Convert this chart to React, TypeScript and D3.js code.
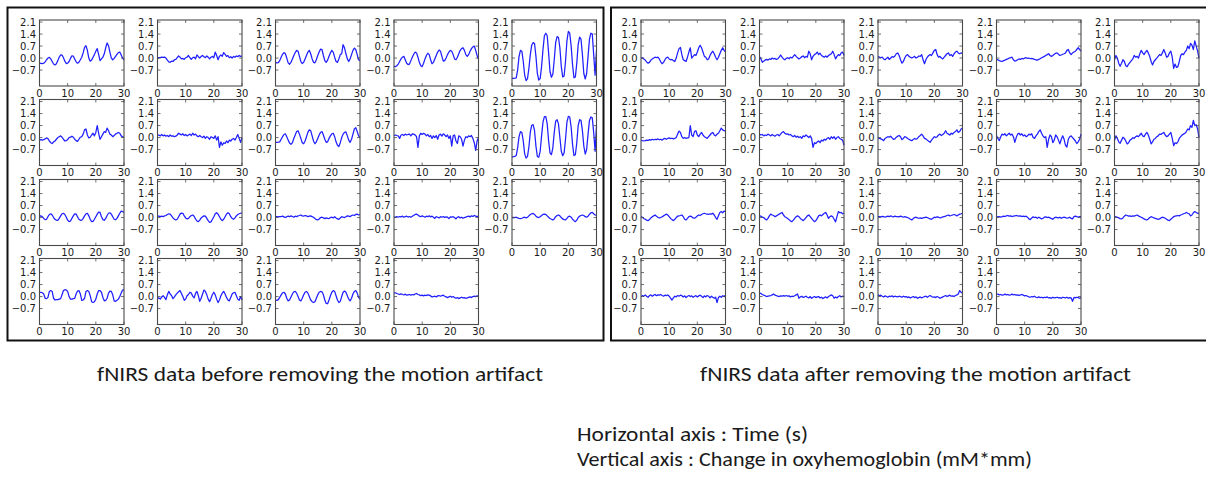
import React from "react";
import * as d3 from "d3";

// ---- Data (hemoglobin change, sampled every 0.5 s from 0 to 30 s) ----
const yTicks = [2.1, 1.4, 0.7, 0.0, -0.7];
const xTicks = [0, 10, 20, 30];
const yDomain = [-1.63, 2.22];
const timeStep = 0.5;

const before01 = [-0.30,-0.31,-0.32,-0.30,-0.22,-0.10,0.00,0.04,-0.05,-0.20,-0.35,-0.40,-0.33,-0.15,0.05,0.18,0.17,0.02,-0.18,-0.32,-0.30,-0.20,-0.02,0.13,0.12,-0.05,-0.22,-0.30,-0.24,-0.10,0.05,0.30,0.62,0.72,0.45,0.00,-0.18,-0.12,0.05,0.20,0.40,0.55,0.20,-0.15,-0.05,0.05,0.25,0.60,0.88,0.72,0.35,0.00,-0.10,-0.02,0.10,0.22,0.32,0.35,0.18,0.00,-0.10];
const before02 = [0.00,0.02,0.03,0.05,0.04,0.06,0.00,-0.12,-0.22,-0.25,-0.18,-0.20,-0.10,-0.08,0.02,0.12,0.05,-0.05,-0.02,-0.08,0.02,0.05,0.15,0.02,-0.08,0.02,0.05,-0.05,0.18,0.08,0.00,0.10,0.15,0.08,0.02,0.12,0.05,-0.05,0.05,0.10,0.02,0.35,0.15,-0.10,0.10,0.18,0.10,0.32,0.22,0.10,0.15,0.02,0.08,0.00,0.10,0.05,0.12,0.08,0.15,0.10,0.12];
const before03 = [-0.25,-0.28,-0.27,-0.15,0.05,0.22,0.32,0.25,0.00,-0.28,-0.36,-0.25,-0.05,0.15,0.32,0.45,0.40,0.10,-0.20,-0.32,-0.25,-0.05,0.15,0.35,0.45,0.25,-0.05,-0.25,-0.28,-0.10,0.15,0.35,0.52,0.50,0.15,-0.15,-0.25,-0.12,0.10,0.30,0.45,0.35,0.05,-0.20,-0.25,-0.05,0.20,0.25,0.78,0.60,0.25,-0.05,-0.20,-0.05,0.20,0.45,0.58,0.50,0.20,-0.10,-0.15];
const before04 = [-0.48,-0.50,-0.45,-0.35,-0.20,-0.05,0.05,0.10,-0.10,-0.30,-0.38,-0.35,-0.15,0.05,0.22,0.35,0.30,0.05,-0.25,-0.45,-0.50,-0.30,-0.05,0.15,0.28,0.20,-0.10,-0.33,-0.25,-0.05,0.15,0.35,0.47,0.40,0.10,-0.18,-0.15,0.00,0.20,0.35,0.45,0.40,0.20,-0.05,-0.10,0.05,0.25,0.45,0.55,0.60,0.45,0.20,0.10,0.20,0.40,0.55,0.65,0.70,0.45,0.15,-0.05];
const before05 = [-1.18,-1.18,-1.17,-1.15,-0.70,0.10,0.45,0.40,-0.20,-1.00,-1.32,-1.20,-0.60,0.20,0.75,0.90,0.85,0.10,-0.90,-1.28,-1.20,-0.50,0.50,1.30,1.45,1.30,0.30,-0.80,-1.12,-0.95,-0.10,0.90,1.25,1.20,0.60,-0.50,-1.10,-1.05,-0.20,1.00,1.55,1.45,0.70,-0.40,-1.15,-1.10,-0.30,0.80,1.22,1.10,0.20,-0.90,-1.22,-0.90,0.10,1.10,1.45,1.40,0.20,-1.00,0.47];
const before06 = [-0.15,-0.12,-0.15,-0.12,-0.08,-0.02,-0.06,-0.20,-0.30,-0.35,-0.25,-0.20,-0.10,0.00,0.05,0.10,0.02,-0.10,-0.20,-0.18,-0.12,0.00,0.02,0.08,0.02,-0.10,-0.18,-0.22,-0.10,0.02,0.05,0.20,0.45,0.50,0.15,-0.02,0.02,0.15,0.25,0.10,0.30,0.70,0.25,-0.10,0.05,0.20,0.35,0.30,0.55,0.40,0.20,0.15,0.05,0.12,0.20,0.25,0.30,0.25,0.10,0.05,0.00];
const before07 = [0.12,0.15,0.10,0.18,0.10,0.15,0.08,0.12,0.05,0.15,0.08,0.10,0.05,0.08,0.15,0.25,0.20,0.15,0.22,0.12,0.18,0.10,0.15,0.20,0.12,0.25,0.15,0.20,0.10,0.05,0.12,0.05,0.00,0.08,-0.05,0.05,0.00,-0.10,0.05,0.00,-0.05,0.10,-0.15,0.05,-0.57,-0.25,-0.45,-0.30,-0.35,-0.20,-0.30,-0.15,-0.20,-0.10,-0.05,-0.15,0.00,0.18,-0.05,-0.28,0.00];
const before08 = [-0.28,-0.28,-0.27,-0.25,-0.10,0.05,0.18,0.22,0.05,-0.15,-0.32,-0.40,-0.30,-0.05,0.15,0.35,0.40,0.20,-0.05,-0.30,-0.36,-0.20,0.05,0.30,0.45,0.40,0.10,-0.20,-0.36,-0.25,-0.05,0.15,0.30,0.35,0.15,-0.10,-0.28,-0.25,-0.05,0.10,0.22,0.25,0.05,-0.25,-0.45,-0.52,-0.30,0.00,0.20,0.30,0.33,0.10,-0.15,-0.28,-0.10,0.20,0.50,0.58,0.35,0.10,0.00];
const before09 = [0.12,0.15,0.12,0.10,-0.05,0.15,0.18,0.12,0.20,0.15,0.18,0.20,0.10,0.22,0.20,0.15,0.05,-0.57,0.10,0.25,0.18,0.25,0.20,0.10,0.18,0.05,0.12,-0.05,0.10,0.00,0.12,-0.10,0.15,0.20,0.08,0.22,0.15,0.05,0.15,-0.05,0.10,-0.50,0.10,0.15,-0.20,-0.35,0.10,0.05,-0.10,-0.50,-0.15,0.05,0.00,0.10,0.05,0.12,-0.05,-0.30,-0.75,-0.20,0.00];
const before10 = [-1.12,-1.12,-1.10,-1.05,-0.60,0.05,0.35,0.30,-0.20,-0.95,-1.20,-1.10,-0.55,0.30,0.72,0.75,0.40,-0.50,-1.10,-1.15,-0.80,0.10,0.90,1.22,1.22,0.80,-0.20,-0.90,-1.00,-0.60,0.30,0.95,1.04,0.80,0.00,-0.80,-1.06,-0.90,-0.10,0.90,1.24,1.20,0.60,-0.40,-1.05,-1.00,-0.30,0.70,1.04,1.00,0.40,-0.50,-0.96,-0.70,0.20,1.00,1.20,1.15,0.30,-0.80,0.70];
const before11 = [0.08,0.10,0.05,-0.05,-0.12,-0.10,0.05,0.18,0.22,0.15,0.00,-0.10,-0.15,-0.16,-0.05,0.10,0.22,0.25,0.18,0.02,-0.15,-0.24,-0.20,-0.05,0.10,0.22,0.20,0.05,-0.10,-0.16,-0.15,-0.05,0.10,0.22,0.25,0.10,-0.10,-0.24,-0.22,-0.10,0.05,0.20,0.32,0.30,0.05,-0.12,-0.16,-0.05,0.12,0.25,0.28,0.20,0.05,-0.10,-0.13,-0.05,0.10,0.25,0.38,0.35,0.30];
const before12 = [0.08,0.08,0.05,0.08,0.05,0.10,0.12,0.18,0.22,0.20,0.10,-0.02,-0.10,-0.14,-0.10,0.05,0.20,0.26,0.25,0.10,-0.02,-0.08,-0.05,0.05,0.12,0.15,0.08,-0.08,-0.20,-0.24,-0.15,-0.02,0.05,0.10,0.08,-0.05,-0.18,-0.28,-0.25,-0.10,0.05,0.22,0.28,0.20,0.05,-0.10,-0.18,-0.10,0.05,0.20,0.28,0.22,0.05,-0.05,-0.10,-0.02,0.10,0.18,0.22,0.25,0.28];
const before13 = [0.05,0.06,0.04,0.06,0.05,0.08,0.04,0.00,0.05,0.08,0.05,0.10,0.06,0.02,0.08,0.05,0.10,0.12,0.15,0.10,0.08,0.12,0.10,0.05,0.08,0.10,0.05,0.02,-0.05,-0.12,-0.14,-0.08,0.00,0.02,-0.02,-0.06,-0.02,-0.05,-0.06,0.00,0.02,-0.02,0.05,-0.02,-0.08,-0.10,-0.02,0.05,0.02,0.00,0.05,0.10,0.08,0.05,0.12,0.15,0.12,0.18,0.20,0.15,0.18];
const before14 = [0.02,0.03,0.05,0.02,0.06,0.04,0.08,0.02,0.05,0.08,0.03,0.06,0.02,0.08,0.12,0.18,0.20,0.15,0.08,0.05,0.10,0.06,0.02,0.08,0.05,0.10,0.04,0.08,0.02,-0.05,0.05,0.02,-0.02,0.05,0.02,0.06,0.00,0.04,0.02,-0.06,0.04,0.02,0.05,0.00,-0.08,0.02,0.05,-0.02,0.02,-0.04,0.00,0.03,0.06,0.08,0.04,0.10,0.06,0.12,0.08,0.05,0.08];
const before15 = [0.00,0.01,0.00,0.02,-0.02,-0.05,-0.06,-0.04,0.00,0.02,-0.02,0.02,0.10,0.18,0.22,0.24,0.18,0.08,0.02,0.00,0.05,0.12,0.18,0.20,0.18,0.10,0.02,-0.05,-0.10,-0.14,-0.08,0.05,0.12,0.15,0.10,0.00,-0.08,-0.12,-0.14,-0.05,0.05,0.08,0.02,-0.10,-0.18,-0.24,-0.15,0.00,0.08,0.12,0.15,0.12,0.05,0.02,0.08,0.18,0.28,0.30,0.22,0.15,0.12];
const before16 = [0.25,0.25,0.22,0.15,-0.10,-0.12,-0.05,0.30,0.35,0.30,-0.10,-0.20,-0.18,-0.18,-0.15,-0.12,0.10,0.35,0.40,0.38,0.30,0.00,-0.15,-0.15,-0.12,-0.10,0.15,0.32,0.35,0.15,-0.22,-0.20,-0.10,0.30,0.35,0.30,0.05,-0.30,-0.35,-0.30,-0.15,0.15,0.35,0.35,0.25,-0.05,-0.25,-0.22,-0.10,0.20,0.32,0.30,0.10,-0.25,-0.28,-0.22,-0.15,0.00,0.20,0.38,0.40];
const before17 = [-0.12,-0.08,-0.15,-0.02,0.05,-0.05,-0.18,0.10,0.30,0.15,0.05,-0.12,-0.02,0.10,0.20,0.28,0.35,0.18,0.00,-0.22,-0.15,0.05,0.12,0.25,0.20,0.02,-0.08,0.18,0.30,0.05,-0.28,-0.10,0.15,0.38,0.30,0.10,-0.15,-0.30,-0.10,0.12,0.25,0.10,-0.15,-0.35,-0.20,0.05,0.20,0.30,0.15,-0.05,-0.20,-0.25,-0.05,0.15,0.22,0.25,0.05,-0.15,-0.22,0.00,-0.20];
const before18 = [-0.20,-0.22,-0.18,-0.05,0.10,0.22,0.25,0.15,-0.10,-0.25,-0.20,-0.02,0.15,0.28,0.30,0.20,0.00,-0.20,-0.25,-0.10,0.10,0.25,0.30,0.20,0.00,-0.20,-0.30,-0.35,-0.30,-0.10,0.10,0.25,0.30,0.28,0.10,-0.20,-0.40,-0.42,-0.20,0.05,0.25,0.35,0.30,0.05,-0.20,-0.35,-0.28,0.00,0.25,0.32,0.25,0.05,-0.15,-0.25,-0.10,0.15,0.30,0.35,0.20,-0.05,-0.15];
const before19 = [0.20,0.22,0.18,0.15,0.12,0.16,0.12,0.10,0.14,0.08,0.10,0.12,0.08,0.12,0.10,0.15,0.18,0.12,0.10,0.05,0.08,0.04,0.08,0.06,0.10,0.08,0.04,-0.02,0.00,0.02,-0.02,0.04,0.06,0.02,0.05,0.08,0.02,-0.02,-0.06,-0.02,0.02,-0.04,0.00,-0.06,-0.10,-0.06,-0.12,-0.08,-0.04,-0.08,-0.06,-0.10,-0.08,-0.05,-0.02,-0.06,0.00,0.02,0.00,0.04,0.02];

const after01 = [-0.02,0.02,-0.05,-0.12,-0.22,-0.30,-0.25,-0.12,-0.05,0.00,0.05,0.02,0.06,-0.05,-0.22,-0.33,-0.25,-0.10,0.02,0.05,-0.05,-0.10,-0.08,-0.15,-0.20,0.00,0.30,0.55,0.62,0.20,-0.10,-0.15,-0.20,0.05,0.35,0.60,0.00,0.10,0.20,0.15,0.35,0.60,0.75,0.60,0.35,0.10,0.05,-0.10,-0.05,0.15,0.30,0.40,0.25,0.05,-0.10,0.05,0.25,0.45,0.60,0.45,0.35];
const after02 = [0.08,-0.05,-0.25,-0.18,-0.12,-0.08,-0.12,-0.05,-0.08,0.00,-0.05,-0.02,-0.08,-0.04,0.05,0.18,0.05,-0.05,-0.10,-0.02,0.02,-0.04,0.05,0.00,0.10,0.20,0.10,0.02,-0.05,0.00,0.08,0.12,0.02,0.10,0.05,0.40,0.25,-0.10,0.10,0.20,0.25,0.35,0.20,0.28,0.15,0.10,0.05,0.12,0.05,0.15,0.20,0.25,0.40,0.20,-0.05,0.10,0.20,0.15,0.30,0.35,0.15];
const after03 = [0.08,0.05,0.02,0.05,-0.05,-0.10,-0.02,0.05,-0.08,0.00,0.08,0.05,0.12,0.25,0.30,0.15,-0.10,-0.30,-0.20,0.00,0.15,0.20,0.10,0.05,0.00,0.05,0.10,0.00,0.05,0.12,0.10,0.20,-0.10,-0.33,-0.10,0.05,0.15,0.20,0.15,0.30,0.45,0.50,0.20,0.05,0.10,0.00,-0.05,0.05,0.15,0.25,0.30,0.15,0.20,0.10,0.25,0.35,0.40,0.30,0.25,0.30,0.28];
const after04 = [-0.08,-0.10,-0.15,-0.18,-0.20,-0.15,-0.12,-0.08,-0.05,0.00,0.02,0.05,-0.10,-0.18,-0.15,-0.10,-0.05,-0.08,-0.02,-0.05,0.00,0.02,-0.02,0.00,-0.04,-0.02,-0.05,-0.08,-0.10,-0.12,-0.08,-0.04,0.02,0.05,0.10,0.15,0.20,0.25,0.15,0.10,0.15,0.22,0.28,0.30,0.22,0.15,0.18,0.22,0.25,0.30,0.45,0.50,0.30,0.20,0.30,0.35,0.40,0.50,0.60,0.50,0.40];
const after05 = [-0.10,0.15,0.00,-0.30,-0.48,-0.30,-0.10,-0.20,-0.45,-0.50,-0.35,-0.25,-0.15,-0.05,0.15,0.05,0.10,0.00,0.25,0.45,0.30,0.20,0.35,0.45,0.30,0.10,-0.20,-0.40,-0.20,-0.10,0.00,0.10,0.20,0.15,0.30,0.50,0.30,0.05,0.10,0.30,0.40,0.05,-0.60,-0.35,-0.55,-0.50,-0.20,0.15,0.25,0.20,0.35,0.45,0.70,0.55,0.85,0.75,0.50,1.00,0.70,0.40,0.00];
const after06 = [-0.15,-0.18,-0.20,-0.18,-0.15,-0.17,-0.12,-0.15,-0.10,-0.14,-0.10,-0.12,-0.08,-0.13,-0.10,-0.15,-0.08,-0.05,-0.10,-0.05,-0.02,-0.06,-0.04,-0.08,-0.05,0.00,0.20,0.38,0.30,0.05,-0.05,0.00,-0.05,-0.02,0.00,0.70,0.15,0.05,0.35,0.40,0.15,0.05,0.20,0.30,0.15,0.05,0.00,-0.05,0.05,0.15,0.25,0.30,0.15,0.10,0.20,0.25,0.40,0.55,0.45,0.40,0.38];
const after07 = [0.20,0.15,0.18,0.10,0.15,0.12,0.20,0.15,0.10,0.18,0.12,0.08,0.15,0.18,0.10,0.20,0.30,0.35,0.25,0.20,0.22,0.15,0.18,0.10,0.05,0.12,0.02,0.08,0.00,0.05,-0.05,0.10,0.05,0.15,0.08,0.00,0.10,-0.05,-0.57,-0.30,-0.35,-0.25,-0.20,-0.30,-0.15,-0.20,-0.10,-0.15,-0.05,0.00,-0.10,0.05,-0.05,0.05,-0.10,0.00,0.05,-0.05,-0.10,-0.15,-0.45];
const after08 = [0.00,-0.05,-0.08,-0.12,-0.18,-0.05,0.00,0.05,0.02,0.08,-0.02,-0.10,-0.08,0.02,0.08,0.12,0.05,-0.12,-0.05,0.05,0.02,-0.05,-0.10,-0.15,-0.18,-0.12,-0.05,-0.10,-0.05,0.05,0.12,0.20,0.10,-0.05,-0.08,-0.15,-0.22,-0.28,-0.15,-0.05,0.05,0.00,0.05,0.15,0.20,0.12,0.18,0.25,0.40,0.25,0.20,0.15,0.25,0.20,0.30,0.35,0.45,0.30,0.35,0.50,0.55];
const after09 = [0.10,-0.05,-0.18,0.05,0.20,0.15,0.22,0.10,0.18,0.25,0.15,0.20,0.05,-0.28,0.00,0.20,0.25,0.15,0.22,0.10,0.15,0.05,0.10,0.20,0.15,0.22,0.00,-0.05,0.10,0.20,0.35,0.45,0.25,0.10,0.00,0.05,-0.57,-0.10,0.15,0.05,-0.30,-0.15,0.15,0.05,-0.15,-0.37,-0.10,0.10,-0.10,-0.45,-0.55,-0.10,0.05,0.10,0.00,-0.10,-0.20,-0.35,-0.25,-0.10,0.20];
const after10 = [-0.18,0.10,-0.05,-0.25,-0.33,-0.15,0.02,-0.05,-0.20,-0.37,-0.30,-0.15,-0.10,0.00,-0.05,0.05,0.10,0.05,0.15,0.25,0.10,0.05,0.20,0.30,0.15,-0.10,-0.37,-0.25,-0.10,-0.05,0.05,0.10,0.20,0.18,0.25,0.30,0.15,0.05,0.10,0.20,0.30,-0.05,-0.47,-0.30,-0.35,-0.25,-0.05,0.05,0.15,0.20,0.25,0.35,0.50,0.45,0.70,0.60,1.00,0.70,0.75,0.50,0.00];
const after11 = [0.05,0.02,-0.05,-0.10,-0.15,-0.18,-0.12,-0.02,0.05,0.10,0.15,0.08,0.02,-0.02,0.00,0.05,0.10,0.15,0.20,0.15,0.05,-0.05,-0.12,-0.18,-0.10,0.00,0.08,0.10,0.12,0.15,0.05,-0.10,-0.14,-0.05,0.05,0.08,0.05,-0.02,-0.04,0.02,0.10,0.15,0.12,0.18,0.22,0.25,0.22,0.20,0.18,0.22,0.20,0.25,0.15,0.00,-0.10,0.10,0.30,0.35,0.28,0.38,0.35];
const after12 = [0.10,0.08,0.02,0.00,-0.08,-0.14,-0.05,0.10,0.20,0.15,0.12,0.05,0.10,0.15,0.20,0.25,0.30,0.15,0.05,0.00,-0.05,-0.12,-0.20,-0.24,-0.15,-0.05,0.05,0.10,0.05,-0.05,-0.12,-0.18,-0.10,0.00,0.10,0.15,0.05,-0.05,-0.15,-0.24,-0.18,-0.05,0.10,0.15,0.10,0.18,0.25,0.30,0.15,-0.05,0.05,0.10,0.05,-0.10,-0.25,0.05,0.35,0.28,0.30,0.22,0.25];
const after13 = [0.05,0.06,0.04,0.07,0.05,0.02,0.06,0.08,0.05,0.10,0.06,0.04,0.08,0.05,0.06,0.04,0.08,0.05,0.02,0.05,0.03,0.00,-0.04,-0.10,-0.14,-0.06,0.00,0.02,-0.02,-0.04,-0.02,-0.05,-0.02,0.00,0.02,0.00,-0.04,-0.08,-0.10,-0.04,0.02,0.00,0.04,0.02,-0.02,0.00,0.04,0.06,0.08,0.12,0.15,0.10,0.12,0.15,0.18,0.15,0.10,0.15,0.20,0.22,0.25];
const after14 = [0.05,0.04,0.06,0.03,0.05,0.08,0.06,0.10,0.12,0.08,0.10,0.06,0.08,0.10,0.12,0.10,0.08,0.10,0.06,0.08,0.05,0.08,0.02,-0.08,-0.12,-0.02,0.04,0.00,0.02,-0.04,0.02,-0.02,-0.08,-0.04,0.02,0.04,0.00,0.02,-0.02,-0.06,-0.10,-0.02,0.02,0.00,-0.02,0.02,-0.04,0.00,0.02,0.00,-0.04,-0.02,0.02,-0.05,-0.08,0.05,0.08,0.05,0.02,0.06,0.05];
const after15 = [0.05,0.04,0.02,-0.02,-0.06,-0.08,-0.02,0.08,0.15,0.12,0.08,0.10,0.06,0.10,0.08,0.12,0.15,0.10,0.05,0.02,-0.02,-0.08,-0.12,-0.14,-0.08,0.00,0.05,0.02,-0.02,-0.05,-0.08,-0.10,-0.08,-0.02,0.02,0.00,-0.04,-0.10,-0.15,-0.18,-0.10,-0.02,0.05,0.08,0.10,0.12,0.10,0.15,0.18,0.22,0.25,0.30,0.25,0.22,0.10,0.15,0.28,0.35,0.30,0.25,0.25];
const after16 = [0.00,0.05,0.02,0.10,0.02,-0.04,0.06,0.10,0.02,0.08,0.12,0.05,0.10,0.08,0.12,0.06,0.02,0.08,0.05,0.10,0.02,-0.10,-0.20,-0.08,0.02,-0.02,0.06,0.02,0.08,0.05,-0.02,0.04,-0.06,0.02,0.06,0.00,0.04,-0.04,0.02,0.05,-0.02,0.04,0.08,0.02,-0.06,0.04,-0.02,0.06,0.02,-0.08,0.02,-0.04,-0.10,-0.04,-0.35,-0.05,0.02,-0.04,0.05,0.00,0.08];
const after17 = [0.20,0.18,0.12,0.08,0.05,0.00,0.02,0.04,0.06,0.10,0.15,0.08,0.05,0.02,0.00,0.04,0.02,0.05,0.03,0.06,0.02,0.04,-0.02,0.02,0.00,0.05,0.10,0.15,-0.10,-0.02,0.02,-0.05,-0.02,0.02,-0.04,-0.08,0.00,-0.10,-0.04,0.00,-0.06,-0.02,0.00,-0.08,-0.04,-0.12,-0.06,-0.02,-0.08,0.00,0.05,0.10,0.05,-0.10,-0.02,-0.08,0.00,0.05,-0.02,0.02,0.00];
const after18 = [0.10,0.05,0.08,0.02,-0.02,0.04,0.00,-0.04,0.02,0.00,0.04,-0.02,0.02,0.00,-0.02,0.02,0.00,-0.04,0.02,-0.02,0.00,-0.06,-0.02,-0.08,-0.04,0.00,-0.06,-0.02,-0.10,-0.06,-0.02,-0.08,-0.04,0.00,0.02,-0.04,0.02,0.06,0.00,-0.04,-0.02,-0.06,0.00,-0.04,-0.10,-0.06,-0.02,0.02,0.06,0.00,0.04,0.08,0.02,0.04,0.00,0.06,0.10,0.15,0.35,0.25,0.20];
const after19 = [0.12,0.15,0.10,0.12,0.08,0.10,0.14,0.10,0.12,0.08,0.10,0.14,0.10,0.12,0.08,0.10,0.06,0.10,0.12,0.08,0.04,0.06,0.02,-0.02,-0.04,0.00,-0.02,0.02,-0.04,-0.06,-0.02,-0.06,-0.04,-0.08,-0.04,-0.06,-0.02,-0.08,-0.06,-0.10,-0.04,-0.08,-0.06,-0.04,-0.08,-0.06,-0.10,-0.04,-0.06,-0.08,-0.04,-0.10,-0.06,-0.08,-0.28,-0.05,-0.08,-0.04,-0.06,-0.10,-0.08];

const beforeSeries = [before01, before02, before03, before04, before05, before06, before07, before08, before09, before10, before11, before12, before13, before14, before15, before16, before17, before18, before19];
const afterSeries = [after01, after02, after03, after04, after05, after06, after07, after08, after09, after10, after11, after12, after13, after14, after15, after16, after17, after18, after19];

const captionBefore = "fNIRS data before removing the motion artifact";
const captionAfter = "fNIRS data after removing the motion artifact";
const noteH = "Horizontal axis : Time (s)";
const noteV = "Vertical axis : Change in oxyhemoglobin (mM*mm)";

// ---- Layout ----
const W = 1206;
const H = 479;
const AX_W = 84.5;
const AX_H = 66;
const ROW_TOPS = [20, 99.5, 179.5, 258.5];
const LEFT_COLS = [39.5, 157.5, 275.5, 394, 512];
const RIGHT_COLS = [641, 759.5, 878, 996.5, 1114.5];
const TICK_FONT = "'DejaVu Sans', Verdana, sans-serif";
const CAP_FONT = "Carlito, Calibri, Lato, 'Open Sans', sans-serif";

const fmt = (v: number) => (v < 0 ? "\u2212" + Math.abs(v).toFixed(1) : v.toFixed(1));

function SmallPlot({ x0, y0, values }: { x0: number; y0: number; values: number[] }) {
  const x = d3.scaleLinear().domain([0, 30]).range([x0, x0 + AX_W]);
  const y = d3.scaleLinear().domain(yDomain).range([y0 + AX_H, y0]);
  const line = d3
    .line<number>()
    .x((_, i) => x(i * timeStep))
    .y((d) => y(d));
  const tl = 3;
  const spine = "#4a4a4a";
  return (
    <g>
      <path d={line(values) || ""} fill="none" stroke="#1f1fff" strokeWidth={1.25} strokeLinejoin="round" />
      <rect x={x0} y={y0} width={AX_W} height={AX_H} fill="none" stroke={spine} strokeWidth={1.1} />
      {xTicks.map((t) => (
        <g key={"x" + t}>
          <line x1={x(t)} x2={x(t)} y1={y0 + AX_H} y2={y0 + AX_H - tl} stroke={spine} strokeWidth={0.8} />
          <line x1={x(t)} x2={x(t)} y1={y0} y2={y0 + tl} stroke={spine} strokeWidth={0.8} />
          <text x={x(t)} y={y0 + AX_H + 10.5} textAnchor="middle" fontFamily={TICK_FONT} fontSize={10} fill="#1a1a1a">
            {t}
          </text>
        </g>
      ))}
      {yTicks.map((t) => (
        <g key={"y" + t}>
          <line x1={x0} x2={x0 + tl} y1={y(t)} y2={y(t)} stroke={spine} strokeWidth={0.8} />
          <line x1={x0 + AX_W} x2={x0 + AX_W - tl} y1={y(t)} y2={y(t)} stroke={spine} strokeWidth={0.8} />
          <text x={x0 - 3.5} y={y(t)} dy="0.36em" textAnchor="end" fontFamily={TICK_FONT} fontSize={10} fill="#1a1a1a">
            {fmt(t)}
          </text>
        </g>
      ))}
    </g>
  );
}

function Panel({ cols, series }: { cols: number[]; series: number[][] }) {
  return (
    <g>
      {series.map((vals, k) => {
        const r = Math.floor(k / 5);
        const c = k % 5;
        return <SmallPlot key={k} x0={cols[c]} y0={ROW_TOPS[r]} values={vals} />;
      })}
    </g>
  );
}

export default function App() {
  return (
    <svg
      width={W}
      height={H}
      viewBox={`0 0 ${W} ${H}`}
      style={{ position: "absolute", left: 0, top: 0, background: "#fff" }}
    >
      <rect x={0} y={0} width={W} height={H} fill="#fff" />
      <rect x={7.5} y={7.5} width={596} height={333} fill="none" stroke="#111" strokeWidth={2} />
      <rect x={611} y={7.5} width={600} height={333} fill="none" stroke="#111" strokeWidth={2} />
      <Panel cols={LEFT_COLS} series={beforeSeries} />
      <Panel cols={RIGHT_COLS} series={afterSeries} />
      <text x={97} y={381} fontFamily={CAP_FONT} fontSize={20.5} fill="#1a1a1a" textLength={446} lengthAdjust="spacingAndGlyphs">
        {captionBefore}
      </text>
      <text x={700} y={381} fontFamily={CAP_FONT} fontSize={20.5} fill="#1a1a1a" textLength={431} lengthAdjust="spacingAndGlyphs">
        {captionAfter}
      </text>
      <text x={577} y={441} fontFamily={CAP_FONT} fontSize={20.5} fill="#1a1a1a" textLength={231} lengthAdjust="spacingAndGlyphs">
        {noteH}
      </text>
      <text x={577} y={466} fontFamily={CAP_FONT} fontSize={20.5} fill="#1a1a1a" textLength={455} lengthAdjust="spacingAndGlyphs">
        {noteV}
      </text>
    </svg>
  );
}
